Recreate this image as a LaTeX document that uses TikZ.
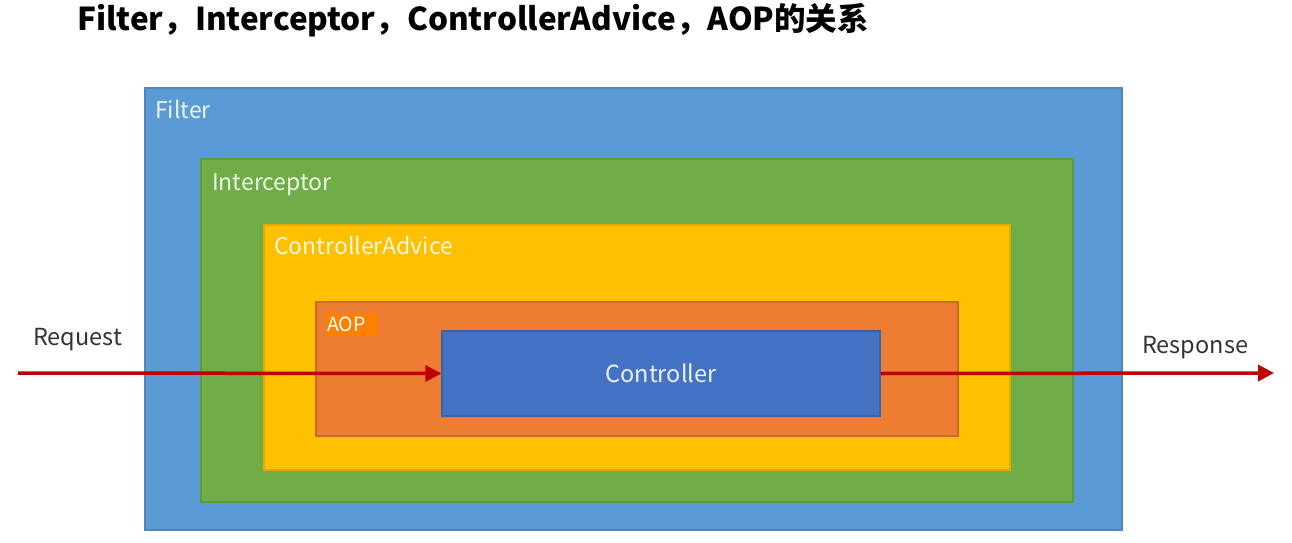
\documentclass[tikz,border=0pt]{standalone}
\usepackage{fontspec}
\setmainfont{Noto Sans CJK SC}
\usetikzlibrary{arrows.meta}
\definecolor{filterblue}{HTML}{5B9BD5}
\definecolor{filterline}{HTML}{4F86BE}
\definecolor{intgreen}{HTML}{70AD47}
\definecolor{intline}{HTML}{5E9A3A}
\definecolor{advyellow}{HTML}{FFC000}
\definecolor{advline}{HTML}{E3AA00}
\definecolor{aoporange}{HTML}{ED7D31}
\definecolor{aopline}{HTML}{C9692A}
\definecolor{aoplabel}{HTML}{FF7F00}
\definecolor{ctrlblue}{HTML}{4472C4}
\definecolor{ctrlline}{HTML}{3A62A8}
\definecolor{arrowred}{HTML}{C00000}
\definecolor{labelgray}{HTML}{333333}
\begin{document}
\begin{tikzpicture}[x=1pt,y=-1pt,
  layer/.style={draw=#1, line width=1.2pt},
  boxlabel/.style={anchor=base west, inner sep=0pt, font=\fontsize{23}{26}\selectfont, text=white, text opacity=0.88},
  sidelabel/.style={anchor=base west, inner sep=0pt, font=\fontsize{23.5}{26}\selectfont, text=labelgray},
  flow/.style={draw=arrowred, line width=3.5pt, -{Triangle[length=16pt,width=16pt]}}]
\useasboundingbox (0,0) rectangle (1292,543);
\fill[white] (0,0) rectangle (1292,543);
\node[anchor=base west, inner sep=0pt, font=\fontsize{31.5}{34}\selectfont\bfseries] (title) at (77,31) {Filter，Interceptor，ControllerAdvice，AOP的关系};
\filldraw[fill=filterblue, layer=filterline] (145,88) rectangle (1122,530);
\filldraw[fill=intgreen, layer=intline] (201,159) rectangle (1073,502);
\filldraw[fill=advyellow, layer=advline] (264,225) rectangle (1010,470);
\filldraw[fill=aoporange, layer=aopline] (316,302) rectangle (958,436);
\node[draw=ctrlline, line width=1.2pt, fill=ctrlblue, minimum width=438pt, minimum height=85pt, inner sep=0pt, text=white, text opacity=0.9, font=\fontsize{23.5}{26}\selectfont] (ctrl) at (661,373.5) {Controller};
\node[boxlabel] (lfilter) at (155,118) {Filter};
\node[boxlabel] (linter) at (212,190) {Interceptor};
\node[boxlabel] (ladv) at (274,254) {ControllerAdvice};
\node[fill=aoplabel, minimum width=52pt, minimum height=23pt, inner sep=0pt] (laopbg) at (352,324.5) {};
\node[anchor=base west, inner sep=0pt, text=white, font=\fontsize{19.5}{22}\selectfont] (laop) at (327,331.5) {AOP};
\node[sidelabel] (lreq) at (33,345) {Request};
\node[sidelabel] (lresp) at (1142,353) {Response};
\coordinate (start) at (18,373);
\coordinate (finish) at (1274,373);
\draw[flow] (start) -- (ctrl.west);
\draw[flow] (ctrl.east) -- (finish);
\end{tikzpicture}
\end{document}
